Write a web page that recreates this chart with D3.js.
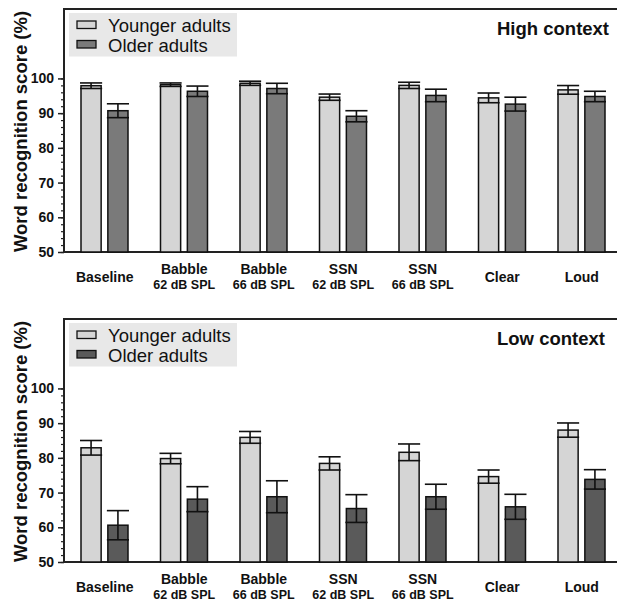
<!DOCTYPE html>
<html>
<head>
<meta charset="utf-8">
<script src="https://cdn.jsdelivr.net/npm/d3@7"></script>
<style>
  body { margin: 0; background: #fff; }
  svg { font-family: "Liberation Sans", Arial, Helvetica, sans-serif; }
</style>
</head>
<body>
<svg id="chart" width="617" height="600"></svg>
<script>
// conditions and their second label line
const conditions = ["Baseline", "Babble62", "Babble66", "SSN62", "SSN66", "Clear", "Loud"];
const mainLabels = ["Baseline", "Babble", "Babble", "SSN", "SSN", "Clear", "Loud"];
const subLabels = ["", "62 dB SPL", "66 dB SPL", "62 dB SPL", "66 dB SPL", "", ""];
const groups = ["Younger adults", "Older adults"];

// high context: mean and standard error
const highYounger = [97.9, 98.2, 98.6, 94.6, 98.0, 94.4, 96.7];
const highYoungerErr = [0.8, 0.5, 0.6, 0.9, 0.9, 1.4, 1.25];
const highOlder = [90.7, 96.3, 97.1, 89.1, 95.1, 92.6, 94.8];
const highOlderErr = [2.0, 1.5, 1.5, 1.6, 1.8, 2.0, 1.5];

// low context: mean and standard error
const lowYounger = [82.9, 79.8, 85.9, 78.4, 81.6, 74.6, 88.0];
const lowYoungerErr = [2.1, 1.5, 1.7, 1.9, 2.4, 1.9, 2.05];
const lowOlder = [60.6, 68.1, 68.8, 65.4, 68.8, 65.9, 73.8];
const lowOlderErr = [4.2, 3.6, 4.6, 4.0, 3.6, 3.6, 2.8];

const yTicks = [50, 60, 70, 80, 90, 100];
const yMinorTicks = d3.range(50, 101, 2);

const svg = d3.select("#chart");

const boxLeft = 64, boxRight = 630;

const x = d3.scaleBand().domain(conditions).range([65, 65 + 7 * 79.5]);
const xInner = d3.scaleBand().domain(groups).range([16, 63]).paddingInner(0.25);

function drawPanel(top, bottom, title, younger, youngerErr, older, olderErr, olderColor) {
  const g = svg.append("g");
  const y = d3.scaleLinear().domain([50, 120]).range([bottom, top]);
  const colors = { "Younger adults": "#d5d5d5", "Older adults": olderColor };

  const rows = conditions.map((c, i) => [
    { c, grp: groups[0], v: younger[i], e: youngerErr[i] },
    { c, grp: groups[1], v: older[i], e: olderErr[i] }
  ]).flat();

  // frame (right side runs off the picture)
  g.append("rect")
    .attr("x", boxLeft)
    .attr("y", top)
    .attr("width", boxRight - boxLeft)
    .attr("height", bottom - top)
    .attr("fill", "none")
    .attr("stroke", "#222")
    .attr("stroke-width", 2);

  // bars
  g.selectAll(".bar")
    .data(rows)
    .enter()
    .append("rect")
    .attr("class", "bar")
    .attr("x", (d) => x(d.c) + xInner(d.grp))
    .attr("y", (d) => y(d.v))
    .attr("width", xInner.bandwidth())
    .attr("height", (d) => y(50) - y(d.v))
    .attr("fill", (d) => colors[d.grp])
    .attr("stroke", "#111")
    .attr("stroke-width", 1.5);

  // error bars
  const err = g.selectAll(".err").data(rows).enter().append("g").attr("class", "err")
    .attr("stroke", "#111").attr("stroke-width", 1.6);
  err.append("line")
    .attr("x1", (d) => x(d.c) + xInner(d.grp) + xInner.bandwidth() / 2)
    .attr("x2", (d) => x(d.c) + xInner(d.grp) + xInner.bandwidth() / 2)
    .attr("y1", (d) => y(d.v - d.e))
    .attr("y2", (d) => y(d.v + d.e));
  err.append("line")
    .attr("x1", (d) => x(d.c) + xInner(d.grp) - 1)
    .attr("x2", (d) => x(d.c) + xInner(d.grp) + xInner.bandwidth() + 1)
    .attr("y1", (d) => y(d.v + d.e))
    .attr("y2", (d) => y(d.v + d.e));
  err.append("line")
    .attr("x1", (d) => x(d.c) + xInner(d.grp) - 1)
    .attr("x2", (d) => x(d.c) + xInner(d.grp) + xInner.bandwidth() + 1)
    .attr("y1", (d) => y(d.v - d.e))
    .attr("y2", (d) => y(d.v - d.e));

  // y axis: minor then major ticks
  g.append("g")
    .attr("transform", `translate(${boxLeft},0)`)
    .call(d3.axisLeft(y).tickValues(yMinorTicks).tickSize(3).tickFormat(""))
    .call((a) => a.select(".domain").remove())
    .selectAll("line").attr("stroke", "#222").attr("stroke-width", 1.2);

  const ya = g.append("g")
    .attr("transform", `translate(${boxLeft},0)`)
    .call(d3.axisLeft(y).tickValues(yTicks).tickSize(6).tickPadding(4));
  ya.select(".domain").remove();
  ya.selectAll("line").attr("stroke", "#222").attr("stroke-width", 1.5);
  ya.selectAll("text")
    .attr("fill", "#111")
    .style("font-size", "14px")
    .style("font-weight", "bold")
    .style("font-family", "'Liberation Sans', Arial, sans-serif");

  // x labels
  g.selectAll(".xlab")
    .data(conditions)
    .enter()
    .append("text")
    .attr("x", (d) => x(d) + x.bandwidth() / 2)
    .attr("y", (d, i) => bottom + (subLabels[i] ? 22 : 29.7))
    .attr("text-anchor", "middle")
    .style("font-size", "14px")
    .style("font-weight", "bold")
    .attr("fill", "#111")
    .text((d, i) => mainLabels[i]);

  g.selectAll(".xsub")
    .data(conditions.filter((d, i) => subLabels[i]))
    .enter()
    .append("text")
    .attr("x", (d) => x(d) + x.bandwidth() / 2)
    .attr("y", bottom + 36.5)
    .attr("text-anchor", "middle")
    .style("font-size", "12.5px")
    .style("font-weight", "bold")
    .attr("fill", "#111")
    .text((d) => subLabels[conditions.indexOf(d)]);

  // y label
  g.append("text")
    .attr("transform", `translate(26.5,${(top + bottom) / 2 + 1}) rotate(-90)`)
    .attr("text-anchor", "middle")
    .style("font-size", "18.5px")
    .style("font-weight", "bold")
    .attr("fill", "#111")
    .text("Word recognition score (%)");

  // panel title
  g.append("text")
    .attr("x", 497)
    .attr("y", top + 26)
    .style("font-size", "18.5px")
    .style("font-weight", "bold")
    .attr("fill", "#111")
    .text(title);

  // legend
  const legend = g.append("g").attr("transform", `translate(0,${top})`);
  legend.append("rect")
    .attr("x", 69)
    .attr("y", 4)
    .attr("width", 168)
    .attr("height", 43.5)
    .attr("fill", "#e8e8e8");
  groups.forEach((grp, i) => {
    legend.append("rect")
      .attr("x", 77)
      .attr("y", 12 + i * 19.5)
      .attr("width", 19)
      .attr("height", 7.5)
      .attr("fill", colors[grp])
      .attr("stroke", "#111")
      .attr("stroke-width", 1.3);
    legend.append("text")
      .attr("x", 108)
      .attr("y", 22.7 + i * 20)
      .style("font-size", "18.5px")
      .attr("fill", "#111")
      .text(grp);
  });
}

drawPanel(9, 252, "High context", highYounger, highYoungerErr, highOlder, highOlderErr, "#7a7a7a");
drawPanel(319, 562, "Low context", lowYounger, lowYoungerErr, lowOlder, lowOlderErr, "#5a5a5a");
</script>
</body>
</html>
